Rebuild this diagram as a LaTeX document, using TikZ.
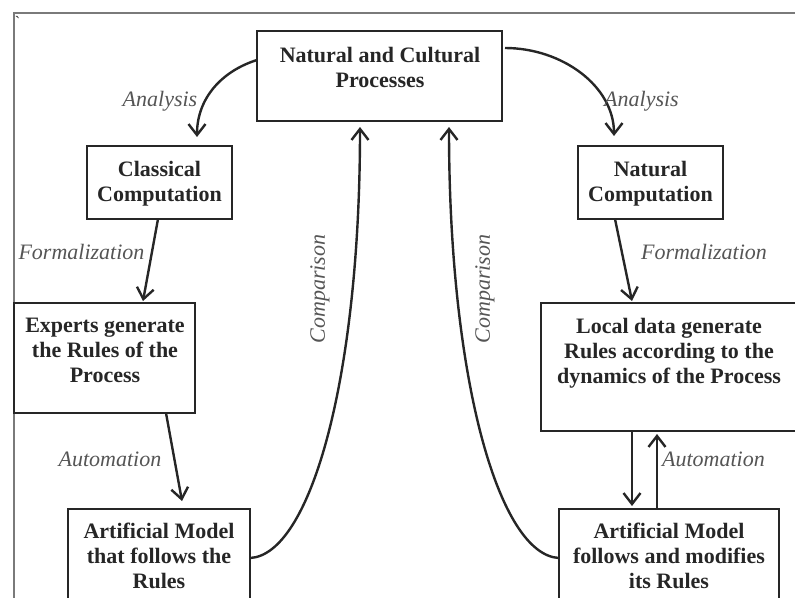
\documentclass[tikz,border=0pt]{standalone}
\usepackage{fontspec}
\setmainfont{Liberation Serif}
\usetikzlibrary{arrows.meta,calc}

\definecolor{ink}{HTML}{262626}
\definecolor{labelgray}{HTML}{555555}
\definecolor{framegray}{HTML}{7A7A7A}

\begin{document}
\begin{tikzpicture}[x=1pt,y=-1pt,
  box/.style={draw=ink, line width=2.4pt, inner sep=0pt, outer sep=0pt},
  boxtext/.style={text=ink, font=\bfseries\fontsize{22}{25}\selectfont,
    align=center, inner sep=0pt, anchor=north},
  steplabel/.style={text=labelgray, font=\itshape\fontsize{22}{25}\selectfont,
    inner sep=0pt, anchor=base},
  flow/.style={draw=ink, line width=2.4pt,
    -{Straight Barb[length=11pt,width=17pt,line width=2.4pt]}},
  frameline/.style={draw=framegray, line width=1.5pt}]

\useasboundingbox (0,0) rectangle (795,597);
\clip (0,0) rectangle (795,597);

% outer frame (left and top edges)
\coordinate (fbl) at (14,600);
\coordinate (ftl) at (14,13);
\coordinate (ftr) at (800,13);
\draw[frameline] (fbl) -- (ftl) -- (ftr);
\node[text=ink, font=\fontsize{16}{16}\selectfont, inner sep=0pt] (tick) at (17.5,22) {\textasciigrave};

% boxes
\node[box, minimum width=245pt, minimum height=90pt]  (top) at (379.5,76)   {};
\node[box, minimum width=145pt, minimum height=73pt]  (cls) at (159.5,182.5) {};
\node[box, minimum width=145pt, minimum height=73pt]  (nat) at (650.5,182.5) {};
\node[box, minimum width=181pt, minimum height=110pt] (exp) at (104.5,358)  {};
\node[box, minimum width=256pt, minimum height=128pt] (loc) at (669,367)    {};
\node[box, minimum width=182pt, minimum height=111pt] (artL) at (159,564.5) {};
\node[box, minimum width=220pt, minimum height=111pt] (artR) at (669,564.5) {};

% box texts
\node[boxtext] (topT) at (380,47) {Natural and Cultural\\Processes};
\node[boxtext] (clsT) at (159.5,161) {Classical\\Computation};
\node[boxtext] (natT) at (650.5,161) {Natural\\Computation};
\node[boxtext] (expT) at (105,318) {Experts generate\\the Rules of the\\Process};
\node[boxtext] (locT) at (669,318) {Local data generate\\Rules according to the\\dynamics of the Process};
\node[boxtext] (artLT) at (159,523) {Artificial Model\\that follows the\\Rules};
\node[boxtext] (artRT) at (669,523) {Artificial Model\\follows and modifies\\its Rules};

% left branch
\draw[flow] ($(top.north west)+(0,29)$)
  .. controls ($(top.north west)+(-35,40)$) and ($(cls.north)+(37.5,-48)$)
  .. ($(cls.north)+(37.5,-9)$);
\draw[flow] ($(cls.south)+(-1.5,0)$) -- ($(exp.north)+(38.5,-2)$);
\draw[flow] ($(exp.south)+(61.5,0)$) -- ($(artL.north)+(23,-8)$);
\draw[flow] ($(artL.north east)+(0,49)$)
  .. controls ($(artL.north east)+(60,46)$) and ($(top.south)+(-19.5,259)$)
  .. ($(top.south)+(-19.5,6)$);

% right branch
\draw[flow] ($(top.north east)+(3,17)$)
  .. controls ($(top.north east)+(60,17)$) and ($(nat.north)+(-36.5,-60)$)
  .. ($(nat.north)+(-36.5,-10)$);
\draw[flow] ($(nat.south)+(-35.5,0)$) -- ($(loc.north)+(-37,-2)$);
\draw[flow] ($(loc.south)+(-37,0)$) -- ($(artR.north)+(-37,-3)$);
\draw[flow] ($(artR.north)+(-12,0)$) -- ($(loc.south)+(-12,3)$);
\draw[flow] ($(artR.north west)+(0,49)$)
  .. controls ($(artR.north west)+(-60,46)$) and ($(top.south)+(69.5,259)$)
  .. ($(top.south)+(69.5,6)$);

% step labels
\node[steplabel] (anL)  at (160,106)   {Analysis};
\node[steplabel] (anR)  at (641.5,106) {Analysis};
\node[steplabel] (foL)  at (81.5,259)  {Formalization};
\node[steplabel] (foR)  at (704,259)   {Formalization};
\node[steplabel] (auL)  at (110,466)   {Automation};
\node[steplabel] (auR)  at (713.5,466) {Automation};
\node[steplabel, anchor=center, rotate=90] (coL) at (320,289) {Comparison};
\node[steplabel, anchor=center, rotate=90] (coR) at (485,289) {Comparison};

\end{tikzpicture}
\end{document}
